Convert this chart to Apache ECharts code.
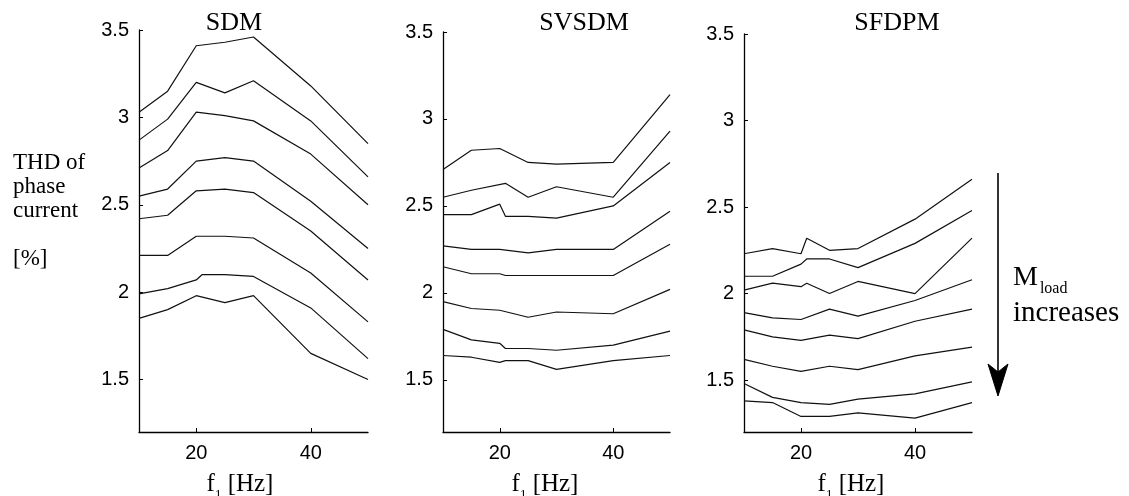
<!DOCTYPE html>
<html>
<head>
<meta charset="utf-8">
<script src="https://cdn.jsdelivr.net/npm/echarts@6/dist/echarts.min.js"></script>
<style>
  html, body { margin: 0; padding: 0; background: #fff; }
  #chart { width: 1129px; height: 496px; }
</style>
</head>
<body>
<div id="chart"></div>
<script>
// ---- data ----
const freq = [10, 15, 20, 21, 25, 30, 40, 50];
const panelTitles = ['SDM', 'SVSDM', 'SFDPM'];
const yTicks = [1.5, 2, 2.5, 3, 3.5];
const xTicks = [20, 40];

const sdm = [
  [3.03, 3.15, 3.41, null, 3.43, 3.46, 3.18, 2.85],
  [2.87, 2.99, 3.20, null, 3.14, 3.21, 2.98, 2.66],
  [2.71, 2.81, 3.03, null, 3.01, 2.98, 2.79, 2.50],
  [2.55, 2.59, 2.75, null, 2.77, 2.75, 2.52, 2.25],
  [2.42, 2.44, 2.58, null, 2.59, 2.57, 2.35, 2.07],
  [2.21, 2.21, 2.32, null, 2.32, 2.31, 2.11, 1.83],
  [1.99, 2.02, 2.07, 2.10, 2.10, 2.09, 1.91, 1.62],
  [1.85, 1.90, 1.98, null, 1.94, 1.98, 1.65, 1.50]
];
const svsdm = [
  [2.71, 2.82, 2.83, null, 2.75, 2.74, 2.75, 3.14],
  [2.55, 2.59, null, 2.63, 2.55, 2.61, 2.55, 2.93],
  [2.45, 2.45, 2.51, 2.44, 2.44, 2.43, 2.50, 2.75],
  [2.27, 2.25, 2.25, null, 2.23, 2.25, 2.25, 2.47],
  [2.15, 2.11, 2.11, 2.10, null, 2.10, 2.10, 2.28],
  [1.95, 1.91, 1.90, null, 1.86, 1.89, 1.88, 2.02],
  [1.79, 1.73, 1.71, 1.68, 1.68, 1.67, 1.70, 1.78],
  [1.64, 1.63, 1.60, 1.61, 1.61, 1.56, 1.61, 1.64]
];
const sfdpm = [
  [2.23, 2.26, 2.23, 2.32, 2.25, 2.26, 2.43, 2.66],
  [2.10, 2.10, 2.17, 2.20, 2.20, 2.15, 2.29, 2.48],
  [2.02, 2.06, 2.04, 2.06, 2.00, 2.07, 2.00, 2.32],
  [1.89, 1.86, 1.85, null, 1.91, 1.87, 1.96, 2.08],
  [1.79, 1.75, 1.73, null, 1.76, 1.74, 1.84, 1.91],
  [1.62, 1.58, 1.55, null, 1.58, 1.56, 1.64, 1.69],
  [1.48, 1.40, 1.37, null, 1.36, 1.39, 1.42, 1.49],
  [1.38, 1.37, 1.29, null, 1.29, 1.31, 1.28, 1.37]
];
const panels = [sdm, svsdm, sfdpm];

// ---- layout ----
const grids = [
  { left: 139, top: 30, width: 229, height: 402 },
  { left: 443, top: 32, width: 227, height: 400 },
  { left: 744, top: 34, width: 228, height: 398 }
];
const titleX = [234, 584, 897];
const xNameX = [240, 545, 851];

const serif = '"Liberation Serif", "Times New Roman", serif';
const sans = '"Liberation Sans", Arial, sans-serif';

const xAxes = [], yAxes = [], series = [];
grids.forEach((g, i) => {
  xAxes.push({
    type: 'value', gridIndex: i, min: 10, max: 50,
    axisLine: { show: true, onZero: false, lineStyle: { color: '#000', width: 1.3 } },
    axisTick: { show: true, inside: true, length: 4, customValues: xTicks, lineStyle: { color: '#000' } },
    axisLabel: { customValues: xTicks, color: '#000', fontFamily: sans, fontSize: 20, margin: 11 },
    splitLine: { show: false }
  });
  yAxes.push({
    type: 'value', gridIndex: i, min: 1.2, max: 3.5,
    axisLine: { show: true, onZero: false, lineStyle: { color: '#000', width: 1.3 } },
    axisTick: { show: true, inside: true, length: 4, customValues: yTicks, lineStyle: { color: '#000' } },
    axisLabel: { customValues: yTicks, color: '#000', fontFamily: sans, fontSize: 20, margin: 10 },
    splitLine: { show: false }
  });
  panels[i].forEach(row => {
    const pts = [];
    row.forEach((v, k) => { if (v !== null) pts.push([freq[k], v]); });
    series.push({
      type: 'line', xAxisIndex: i, yAxisIndex: i, data: pts,
      symbol: 'none', silent: true, animation: false,
      lineStyle: { color: '#111', width: 1.2 }
    });
  });
});

const graphics = [];
panelTitles.forEach((t, i) => {
  graphics.push({
    type: 'text', x: titleX[i], y: 23,
    style: { text: t, font: '26px ' + serif, fill: '#000', textAlign: 'center', textVerticalAlign: 'middle' }
  });
  graphics.push({
    type: 'text', x: xNameX[i], y: 484,
    style: {
      text: '{m|f}{s|1}{m| [Hz]}', textAlign: 'center', textVerticalAlign: 'middle', fill: '#000',
      rich: {
        m: { fontFamily: serif, fontSize: 25, color: '#000', lineHeight: 28 },
        s: { fontFamily: serif, fontSize: 13, color: '#000', lineHeight: 28, verticalAlign: 'bottom', padding: [0, 0, -3, 0] }
      }
    }
  });
});
graphics.push({
  type: 'text', x: 13, y: 151,
  style: { text: 'THD of\nphase\ncurrent\n\n[%]', font: '23px ' + serif, fill: '#000',
           textAlign: 'left', textVerticalAlign: 'top', lineHeight: 24 }
});
graphics.push({
  type: 'text', x: 1013, y: 278,
  style: {
    text: '{m|M}{s|load}', textAlign: 'left', textVerticalAlign: 'middle', fill: '#000',
    rich: {
      m: { fontFamily: serif, fontSize: 28, color: '#000', lineHeight: 30 },
      s: { fontFamily: serif, fontSize: 16, color: '#000', lineHeight: 30, verticalAlign: 'bottom', padding: [0, 0, -4, 2] }
    }
  }
});
graphics.push({
  type: 'text', x: 1013, y: 313,
  style: { text: 'increases', font: '29px ' + serif, fill: '#000', textAlign: 'left', textVerticalAlign: 'middle' }
});
graphics.push({
  type: 'line', shape: { x1: 998, y1: 173, x2: 998, y2: 375 },
  style: { stroke: '#000', lineWidth: 1.6 }
});
graphics.push({
  type: 'polygon', shape: { points: [[998, 396], [988, 364], [998, 372], [1008, 364]] },
  style: { fill: '#000', stroke: '#000', lineWidth: 1 }
});

const chart = echarts.init(document.getElementById('chart'), null, { renderer: 'canvas' });
chart.setOption({
  backgroundColor: '#fff',
  animation: false,
  grid: grids,
  xAxis: xAxes,
  yAxis: yAxes,
  series: series,
  graphic: graphics
});
</script>
</body>
</html>
